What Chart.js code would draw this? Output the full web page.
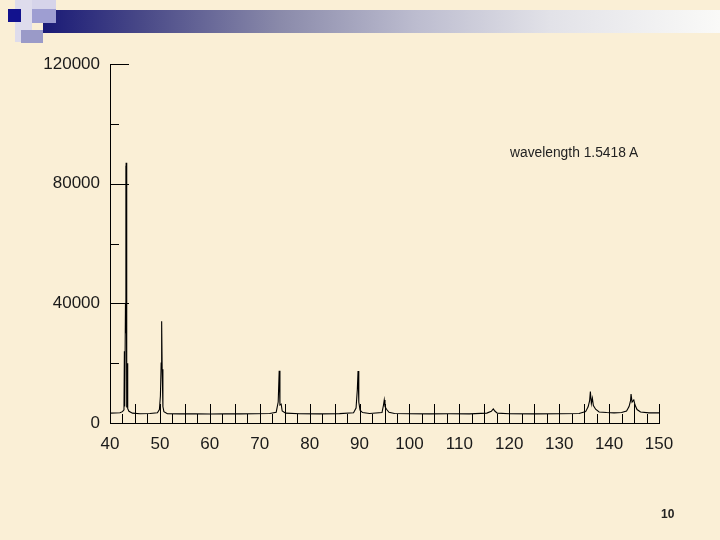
<!DOCTYPE html>
<html>
<head>
<meta charset="utf-8">
<script src="https://cdn.jsdelivr.net/npm/chart.js@4/dist/chart.umd.min.js"></script>
<style>
  html, body { margin: 0; padding: 0; }
  body { width: 720px; height: 540px; background: #FAEFD6; position: relative; overflow: hidden;
         font-family: "Liberation Sans", Arial, sans-serif; }
  .blk { position: absolute; }
  #bar { position: absolute; left: 43px; top: 10px; width: 677px; height: 23px;
         background: linear-gradient(to right, #1a1a76 0%, #4a4a88 15%, #8a8aaa 35%, #bcbccf 55%, #e2e2e8 75%, #fafaf8 100%); }
  #chartWrap { position: absolute; left: 0; top: 0; width: 720px; height: 540px; }
  #note { position: absolute; left: 510px; top: 145px; font-size: 13.8px; color: #222; white-space: nowrap; }
  #page { position: absolute; left: 661px; top: 507px; font-size: 12px; font-weight: bold; color: #222; }
</style>
</head>
<body>
<div class="blk" style="left:15px;top:0;width:17px;height:42px;background:#dedcec;"></div>
<div class="blk" style="left:32px;top:0;width:24px;height:9px;background:#d6d4ea;"></div>
<div id="bar"></div>
<div class="blk" style="left:32px;top:9px;width:24px;height:14px;background:#9e9ed2;"></div>
<div class="blk" style="left:8px;top:9px;width:13px;height:13px;background:#12128e;"></div>
<div class="blk" style="left:21px;top:30px;width:22px;height:13px;background:#9a9ac8;"></div>
<div id="chartWrap"><canvas id="c" width="720" height="540"></canvas></div>
<div id="note">wavelength 1.5418 A</div>
<div id="page">10</div>
<script>
const twoTheta = [
  40.0, 41.0, 42.0, 42.5, 42.8, 42.88, 42.95, 43.1, 43.17, 43.2, 43.23, 43.3, 43.4, 43.47, 43.55, 43.8, 44.5,
  46.0, 48.0, 49.5, 49.9, 50.1, 50.25, 50.35, 50.45, 50.6, 50.8, 51.5,
  54.0, 57.0, 60.0, 63.0, 66.0, 69.0, 72.0, 73.3, 73.7, 73.9, 74.05, 74.3, 74.5, 75.2,
  78.0, 82.0, 86.0, 88.8, 89.3, 89.55, 89.7, 89.85, 90.1, 90.6, 92.0,
  94.5, 94.8, 94.95, 95.1, 95.4, 95.9, 97.0, 100.0, 104.0, 108.0, 112.0,
  115.5, 116.4, 116.8, 117.1, 117.6, 120.0, 125.0, 130.0, 134.0,
  135.3, 135.8, 136.1, 136.25, 136.45, 136.65, 136.85, 137.3, 138.0, 139.5, 141.0, 142.5,
  143.5, 144.0, 144.3, 144.4, 144.6, 144.95, 145.2, 145.6, 146.3, 148.0, 150.0
];
const intensity = [
  3300, 3350, 3400, 3800, 4400, 24000, 5500, 40000, 86000, 30000, 87000, 30000, 5200, 20000, 4800, 3900, 3300,
  3100, 3200, 3400, 4500, 9000, 20000, 34000, 18000, 5500, 3800, 3100,
  3050, 3100, 3000, 3100, 3050, 3100, 3200, 3600, 7000, 17500, 6000, 6300, 4000, 3300,
  3100, 3050, 3150, 3400, 5000, 11000, 17400, 7000, 4300, 3500, 3200,
  3500, 6000, 7700, 5500, 4600, 3600, 3200, 3100, 3050, 3100, 3050,
  3300, 3900, 4700, 4000, 3300, 3100, 3050, 3100, 3200,
  3800, 5400, 7500, 10500, 6500, 8300, 5800, 4600, 3700, 3500, 3400, 3500,
  4000, 5500, 7500, 9700, 7000, 7700, 6000, 4500, 3700, 3400, 3400
];
const xTickLabels = ['40','50','60','70','80','90','100','110','120','130','140','150'];
const yTickLabels = ['0','40000','80000','120000'];

const points = twoTheta.map((t, i) => ({ x: t, y: intensity[i] }));

const innerTicks = {
  id: 'innerTicks',
  afterDraw(chart) {
    const { ctx, scales: { x, y } } = chart;
    ctx.save();
    ctx.strokeStyle = '#000';
    ctx.lineWidth = 1;
    ctx.beginPath();
    for (let k = 1; k <= 44; k++) {
      const v = 40 + k * 2.5;
      const px = Math.round(x.getPixelForValue(v)) + 0.5;
      const len = (k % 2 === 0) ? 19 : 9;
      ctx.moveTo(px, y.bottom);
      ctx.lineTo(px, y.bottom - len);
    }
    for (let k = 1; k <= 6; k++) {
      const v = k * 20000;
      const py = Math.round(y.getPixelForValue(v)) + 0.5;
      const len = (k % 2 === 0) ? 19 : 9;
      ctx.moveTo(x.left, py);
      ctx.lineTo(x.left + len, py);
    }
    ctx.stroke();
    ctx.restore();
  }
};

const font = { family: '"Liberation Sans", Arial, sans-serif', size: 17 };

new Chart(document.getElementById('c'), {
  type: 'scatter',
  data: {
    datasets: [{
      data: points,
      showLine: true,
      borderColor: '#000',
      borderWidth: 1.1,
      pointRadius: 0,
      tension: 0
    }]
  },
  options: {
    responsive: false,
    animation: false,
    layout: { padding: { left: 0, right: 61, top: 64, bottom: 0 } },
    plugins: { legend: { display: false }, tooltip: { enabled: false } },
    scales: {
      x: {
        type: 'linear', min: 40, max: 150,
        afterFit(s) { s.height = 117; s.paddingLeft = 0; s.paddingRight = 0; },
        afterBuildTicks(s) { s.ticks = xTickLabels.map(l => ({ value: Number(l) })); },
        ticks: { font, color: '#1a1a1a', padding: 11, maxRotation: 0, autoSkip: false,
                 callback: (v) => String(v) },
        grid: { display: false, drawTicks: false },
        border: { display: true, color: '#000', width: 1 }
      },
      y: {
        type: 'linear', min: 0, max: 120000,
        afterFit(s) { s.width = 110; s.paddingTop = 0; s.paddingBottom = 0; },
        afterBuildTicks(s) { s.ticks = yTickLabels.map(l => ({ value: Number(l) })); },
        ticks: { font, color: '#1a1a1a', padding: 10, autoSkip: false,
                 callback: (v) => String(v) },
        grid: { display: false, drawTicks: false },
        border: { display: true, color: '#000', width: 1 }
      }
    }
  },
  plugins: [innerTicks]
});
</script>
</body>
</html>
